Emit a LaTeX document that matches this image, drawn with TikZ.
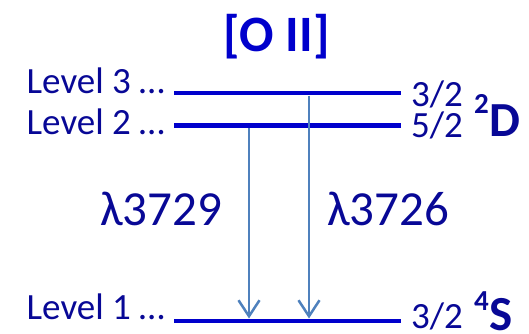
\documentclass[tikz,border=0pt]{standalone}
\usepackage{fontspec}
\setmainfont{Carlito}
\usetikzlibrary{arrows.meta}
\definecolor{titleblue}{RGB}{0,0,204}
\definecolor{txtblue}{RGB}{8,8,150}
\definecolor{lineblue}{RGB}{0,0,204}
\definecolor{arrblue}{RGB}{79,129,189}
\tikzset{
  lvl/.style={draw=lineblue, line width=4.7pt},
  trans/.style={draw=arrblue, line width=2.5pt, -{Straight Barb[length=16pt,width=21pt,line width=2.5pt]}},
  lbl/.style={text=txtblue, inner sep=0pt, font=\fontsize{37}{42}\selectfont},
  frac/.style={text=txtblue, inner sep=0pt, text depth=0pt, font=\fontsize{37}{40}\selectfont},
  wl/.style={text=txtblue, inner sep=0pt, font=\fontsize{49}{56}\selectfont},
  term/.style={text=txtblue, inner sep=0pt, font=\bfseries\fontsize{49}{52}\selectfont},
  termsup/.style={text=txtblue, inner sep=0pt, font=\bfseries\fontsize{29}{32}\selectfont},
}
\begin{document}
\begin{tikzpicture}[x=1pt,y=-1pt]
\useasboundingbox (0,0) rectangle (529,333);
% title
\node[text=titleblue, inner sep=0pt, font=\bfseries\fontsize{51}{58}\selectfont, anchor=base] (title) at (276.5,51) {[O II]};
% level lines
\coordinate (l3a) at (174,93); \coordinate (l3b) at (401,93);
\coordinate (l2a) at (174,125.5); \coordinate (l2b) at (401,125.5);
\coordinate (l1a) at (174,321); \coordinate (l1b) at (401,321);
\draw[lvl] (l3a) -- (l3b);
\draw[lvl] (l2a) -- (l2b);
\draw[lvl] (l1a) -- (l1b);
% transitions
\coordinate (t1top) at (249,128); \coordinate (t1bot) at (249,318.5);
\coordinate (t2top) at (309,95.5); \coordinate (t2bot) at (309,318.5);
\draw[trans] (t1top) -- (t1bot);
\draw[trans] (t2top) -- (t2bot);
% left labels
\node[lbl, anchor=base west] (lev3) at (26.5,93) {Level 3 …};
\node[lbl, anchor=base west] (lev2) at (26.5,134) {Level 2 …};
\node[lbl, anchor=base west] (lev1) at (26.5,319) {Level 1 …};
% wavelengths
\node[wl, anchor=base west] (w1) at (100,225) {λ3729};
\node[wl, anchor=base west] (w2) at (327,225) {λ3726};
% J values
\node[frac, anchor=base west] (j3) at (411,106) {3/2};
\node[frac, anchor=base west] (j2) at (411,137) {5/2};
\node[frac, anchor=base west] (j1) at (411,328) {3/2};
% terms
\node[termsup, anchor=base west] (sup2) at (474,113) {2};
\node[term, anchor=base west] (D) at (489,136) {D};
\node[termsup, anchor=base west] (sup4) at (474,310) {4};
\node[term, anchor=base west] (S) at (489,330) {S};
\end{tikzpicture}
\end{document}
